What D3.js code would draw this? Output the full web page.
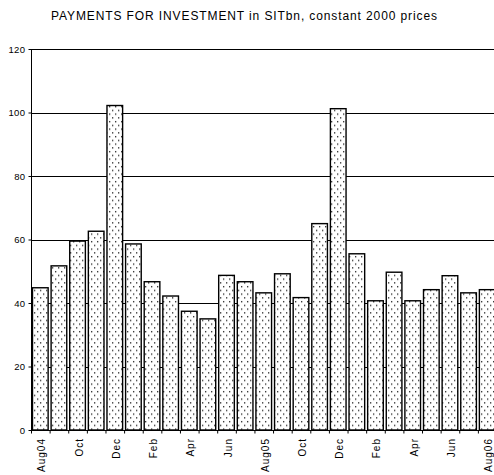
<!DOCTYPE html>
<html>
<head>
<meta charset="utf-8">
<script src="https://cdn.jsdelivr.net/npm/d3@7/dist/d3.min.js"></script>
<style>
  html, body { margin: 0; padding: 0; background: #fff; }
  svg { display: block; font-family: "Liberation Sans", Arial, sans-serif; }
</style>
</head>
<body>
<svg id="chart" width="494" height="475"></svg>
<script>
// Monthly periods, August 2004 – August 2006
const months = ["2004-08","2004-09","2004-10","2004-11","2004-12","2005-01","2005-02",
  "2005-03","2005-04","2005-05","2005-06","2005-07","2005-08","2005-09","2005-10",
  "2005-11","2005-12","2006-01","2006-02","2006-03","2006-04","2006-05","2006-06",
  "2006-07","2006-08"];
// Axis labels (every second month is shown)
const monthLabels = ["Aug04","Sep","Oct","Nov","Dec","Jan","Feb","Mar","Apr","May","Jun","Jul",
  "Aug05","Sep","Oct","Nov","Dec","Jan","Feb","Mar","Apr","May","Jun","Jul","Aug06"];
// Payments for investment, SIT bn at constant 2000 prices
const payments = [44.8, 51.7, 59.5, 62.6, 102.2, 58.6, 46.7, 42.2, 37.4, 35.0, 48.7, 46.7,
  43.2, 49.2, 41.7, 65.0, 101.2, 55.5, 40.7, 49.7, 40.7, 44.2, 48.6, 43.2, 44.2];
const yTicks = [0, 20, 40, 60, 80, 100, 120];

const svg = d3.select("#chart");
const plotLeft = 31, plotBottom = 430, plotTop = 49;
const step = 18.62;
const plotRight = plotLeft + step * months.length;

const x = d3.scaleBand().domain(months).range([plotLeft, plotRight]).paddingInner(0.16).paddingOuter(0.08);
const xEdge = d3.scaleLinear().domain([0, months.length]).range([plotLeft, plotRight]);
const y = d3.scaleLinear().domain([0, 120]).range([plotBottom, plotTop]);

// Dotted fill for the bars
const defs = svg.append("defs");
const pat = defs.append("pattern").attr("id", "dots").attr("patternUnits", "userSpaceOnUse")
  .attr("width", 6).attr("height", 7.5);
pat.append("rect").attr("width", 6).attr("height", 7.5).attr("fill", "#fff");
pat.append("rect").attr("x", 1).attr("y", 1).attr("width", 1.3).attr("height", 1.3).attr("fill", "#222");
pat.append("rect").attr("x", 4).attr("y", 4.75).attr("width", 1.3).attr("height", 1.3).attr("fill", "#222");

// Title
svg.append("text").attr("x", 244).attr("y", 20).attr("text-anchor", "middle")
  .attr("font-size", 12).attr("fill", "#000")
  .attr("textLength", 386).attr("lengthAdjust", "spacing")
  .text("PAYMENTS FOR INVESTMENT in SITbn, constant 2000 prices");

// Horizontal gridlines
svg.append("g").selectAll("line").data(yTicks.slice(1)).join("line")
  .attr("x1", plotLeft).attr("x2", 494)
  .attr("y1", d => Math.round(y(d)) + 0.5).attr("y2", d => Math.round(y(d)) + 0.5)
  .attr("stroke", "#000").attr("stroke-width", 1);

// Bars
svg.append("g").selectAll("rect").data(payments).join("rect")
  .attr("x", (d, i) => x(months[i]))
  .attr("y", d => y(d))
  .attr("width", x.bandwidth())
  .attr("height", d => plotBottom - y(d))
  .attr("fill", "url(#dots)")
  .attr("stroke", "#000").attr("stroke-width", 1.4);

// Y axis
const yAxis = svg.append("g").attr("transform", `translate(${plotLeft + 0.5},0)`)
  .call(d3.axisLeft(y).tickValues(yTicks).tickSize(3).tickPadding(3));
yAxis.select(".domain").attr("stroke", "#000").attr("d", `M0,${plotTop}V${plotBottom}`);
yAxis.selectAll(".tick line").attr("stroke", "#000");
yAxis.selectAll("text").attr("font-size", 9.5).attr("letter-spacing", 0.4)
  .attr("font-family", "Liberation Sans, Arial, sans-serif").attr("fill", "#000");

// X axis baseline and boundary ticks
const xAxis = svg.append("g").attr("transform", `translate(0,${plotBottom + 0.5})`)
  .call(d3.axisBottom(xEdge).tickValues(d3.range(months.length + 1))
    .tickSize(3).tickFormat(""));
xAxis.select(".domain").attr("stroke", "#000").attr("d", `M${plotLeft},0H494`);
xAxis.selectAll(".tick line").attr("stroke", "#000");

// Month labels, rotated
svg.append("g").selectAll("text").data(months.filter((m, i) => i % 2 === 0)).join("text")
  .attr("transform", d => `translate(${x(d) + x.bandwidth() / 2 + 5},${plotBottom + 8}) rotate(-90)`)
  .attr("text-anchor", "end")
  .attr("font-size", 10).attr("letter-spacing", 1).attr("fill", "#000")
  .text(d => monthLabels[months.indexOf(d)]);
</script>
</body>
</html>
